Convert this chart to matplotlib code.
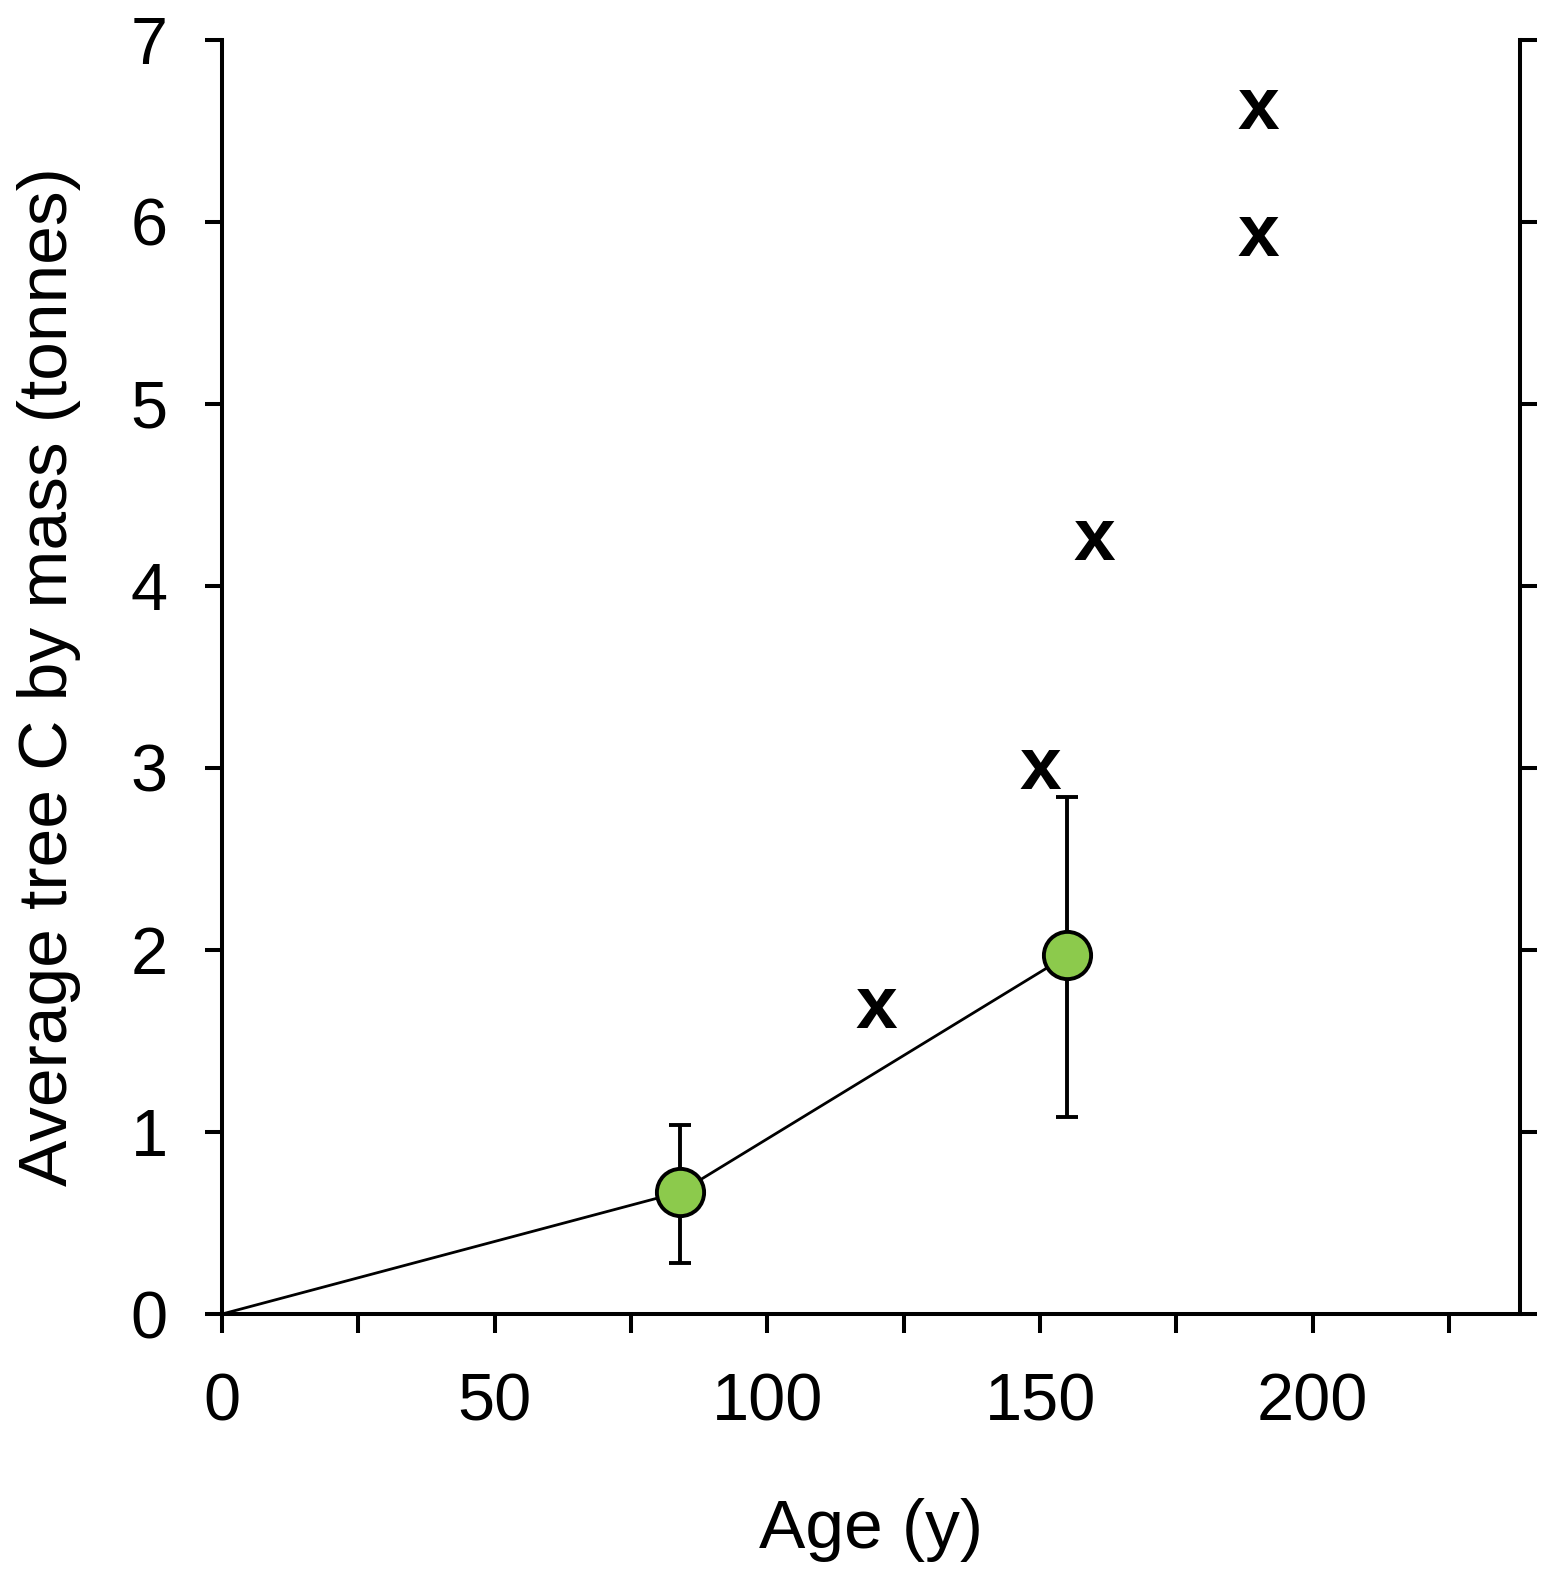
import matplotlib
matplotlib.use("Agg")
import matplotlib.pyplot as plt
from matplotlib.ticker import MultipleLocator

plt.rcParams['font.family'] = ['Liberation Sans', 'DejaVu Sans']

# mean tree C with error bars (green circles), line starts at origin
age_line = [0, 84, 155]
c_line = [0, 0.67, 1.97]
age_mean = [84, 155]
c_mean = [0.67, 1.97]
c_low = [0.28, 1.08]
c_high = [1.04, 2.84]

# other estimates shown as "x"
age_x = [120, 150, 160, 190, 190]
c_x = [1.68, 2.99, 4.25, 5.92, 6.62]

fig = plt.figure(figsize=(15.55, 15.72), dpi=100)
ax = fig.add_axes([0.1428, 0.1641, 0.9775 - 0.1428, 0.9746 - 0.1641])

ax.plot(age_line, c_line, color='black', lw=2.0, zorder=2)
err_lo = [m - l for m, l in zip(c_mean, c_low)]
err_hi = [h - m for m, h in zip(c_mean, c_high)]
ax.errorbar(age_mean, c_mean, yerr=[err_lo, err_hi], fmt='none',
            ecolor='black', elinewidth=2.8, capsize=8, capthick=2.8, zorder=3)
ax.plot(age_mean, c_mean, 'o', ms=34, mfc='#8cca4c', mec='black', mew=2.8,
        zorder=4)

for xv, yv in zip(age_x, c_x):
    ax.text(xv, yv, 'x', fontsize=54, fontweight='bold', ha='center',
            va='center', zorder=5)

ax.set_xlim(0, 238)
ax.set_ylim(0, 7)
ax.xaxis.set_major_locator(MultipleLocator(50))
ax.xaxis.set_minor_locator(MultipleLocator(25))
ax.yaxis.set_major_locator(MultipleLocator(1))

ax.spines['top'].set_visible(False)
for s in ['left', 'right', 'bottom']:
    ax.spines[s].set_linewidth(2.9)

ax.tick_params(axis='both', which='both', direction='out', width=2.9,
               labelsize=48)
ax.tick_params(axis='x', which='both', length=14, pad=28)
ax.tick_params(axis='y', which='both', length=12, pad=27, right=True,
               labelright=False)

ax.set_xlabel('Age (y)', fontsize=50, labelpad=46)
ax.set_ylabel('Average tree C by mass (tonnes)', fontsize=50, labelpad=36)

fig.savefig('out.png', dpi=100)
